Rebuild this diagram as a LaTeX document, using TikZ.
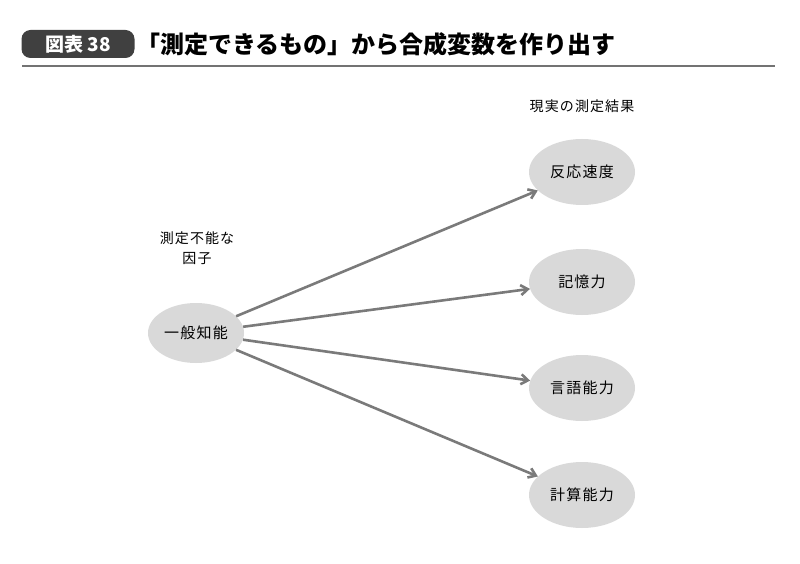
\documentclass[tikz,border=0pt]{standalone}
\usepackage{fontspec}
\setmainfont{Noto Sans CJK JP}
\usetikzlibrary{arrows.meta,shapes.geometric}
\definecolor{ell}{HTML}{D9D9D9}
\definecolor{arr}{HTML}{7A7A7A}
\tikzset{
  bubble/.style={ellipse,fill=ell,minimum width=106pt,minimum height=66pt,inner sep=0pt,font=\addfontfeatures{LetterSpace=8}\fontsize{15}{17}\selectfont},
  src/.style={bubble,minimum width=96pt,minimum height=60pt},
  conn/.style={draw=arr,line width=2.6pt,-{Straight Barb[length=7pt,width=10pt]}},
  lbl/.style={font=\addfontfeatures{LetterSpace=8}\fontsize{14}{20}\selectfont,align=center}
}
\begin{document}
\begin{tikzpicture}[x=1pt,y=-1pt]
\useasboundingbox (0,0) rectangle (800,564);
\node[fill=black!75,rounded corners=9pt,minimum width=113pt,minimum height=28pt,text=white,font=\bfseries\fontsize{19}{20}\selectfont,inner sep=0pt] (tag) at (78,44) {図表 38};
\node[anchor=west,font=\bfseries\fontsize{24}{26}\selectfont,inner sep=0pt] (title) at (136,44) {「測定できるもの」から合成変数を作り出す};
\draw[black!55,line width=1.2pt] (22,66) -- (775,66);
\node[lbl] (top) at (582,106) {現実の測定結果};
\node[lbl] (fac) at (197,248) {測定不能な\\因子};
\node[src] (g) at (196,333) {一般知能};
\node[bubble] (a) at (582,172) {反応速度};
\node[bubble] (b) at (582,282) {記憶力};
\node[bubble] (c) at (582,388) {言語能力};
\node[bubble] (d) at (582,495) {計算能力};
\draw[conn] (g) -- (a);
\draw[conn] (g) -- (b);
\draw[conn] (g) -- (c);
\draw[conn] (g) -- (d);
\end{tikzpicture}
\end{document}
